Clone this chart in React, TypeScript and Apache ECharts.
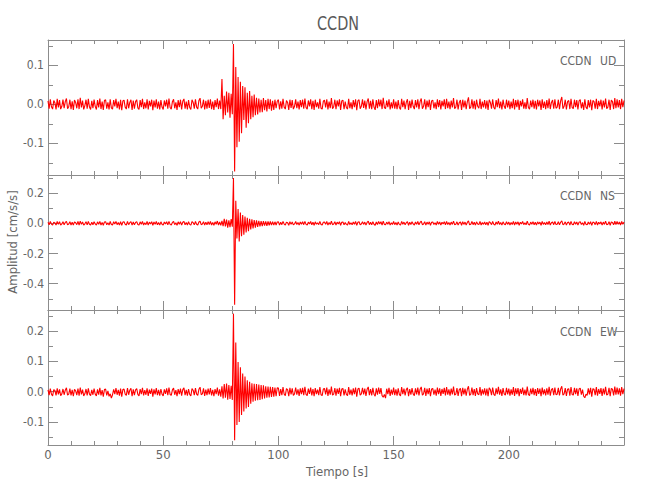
import React, { useEffect, useRef } from "react";
import * as echarts from "echarts";

// sampling interval of the traces, seconds
const dt = 0.5;
const station = "CCDN";
const components = ["UD", "NS", "EW"];

// amplitudes in 0.001 cm/s/s, one value every 0.5 s from 0 s to 250 s
const udMilli = [
  9, -11, 13, -6, -12, 10, 4, -13, 14, -8, 11, -12, -5, 12, -10, 7, 15, -11, -6, 12,
  -12, 8, -14, 11, 5, -10, 13, -12, 17, -8, 10, -13, -3, 12, -11, 14, -7, -13, 9, -10,
  12, -5, -13, 11, -8, 15, -12, 7, -14, 10, 12, -11, 5, -13, 13, -9, -12, 11, -5, 14,
  -10, 7, -13, 12, -15, 9, 11, -7, -12, 13, -10, 5, 12, -14, 10, -11, 7, 12, -9, -13,
  11, -7, 14, -12, 5, -10, 13, -13, 9, -5, 12, -15, 10, -8, 13, -11, 7, -13, 11, -7,
  -13, 10, -5, 12, -11, 15, -8, -12, 7, 13, -10, 5, -14, 11, -7, 12, -13, 8, 14, -11,
  7, -13, 11, -8, -13, 12, 5, -11, 13, -7, -12, 10, 16, -10, -5, 12, -13, 9, -11, 12,
  -9, 13, -12, 7, -14, 11, -7, 15, -12, 10,
  -12, 65, -38, 22, -28, 33, -21, 30, -34, 27, -25, 155, -172, 96, -110, 70, -96, 58, -74, 47,
  -40, 44, -60, 30, -48, 34, -38, 22, -33, 25, -28, 17, -26, 15, -21, 12, -20, 16, -15, 11,
  -18, 14, -12, 13, -16, 9, -14, 12, -10, 8,
  12, -13, 8, -11, 14, -7, -12, 10, 5, -14, 12, -9, 11, -12, -5, 13, -10, 7, -13, 11,
  -7, 12, -11, 15, -8, -12, 10, -5, 13, -12, 9, -14, 12, -7, 5, -11, 14, -10, -12, 8,
  11, -8, 13, -13, 7, -10, 16, -11, -6, 12, -12, 10, -5, 13, -14, 9, 11, -12, 7, -8,
  -12, 14, -10, 5, -12, 11, -7, 13, -15, 9, 12, -11, -5, 13, -9, 10, -13, 7, 15, -11,
  9, -12, 13, -7, -14, 11, -10, 13, -5, 12, -12, 17, -8, -11, 10, -7, 13, -13, 5, -10,
  13, -11, 7, -12, 11, -8, -13, 14, -7, 10, -12, 5, 13, -14, 9, -10, 12, -5, -12, 11,
  -8, 13, -12, 7, 15, -11, -5, 13, -13, 10, -7, 12, -14, 9, 11, -10, 5, -12, 13, -7,
  11, -13, 9, -5, 13, -12, 14, -10, 7, -12, 10, -8, 16, -11, -7, 12, -13, 5, 11, -14,
  12, -8, 10, -12, 7, 18, -11, -7, 13, -11, 9, -13, 12, -5, -10, 14, -12, 7, -8, 11,
  -11, 10, -14, 12, 5, -11, 13, -8, -12, 11, -7, 15, -10, 7, -13, 12, -5, -11, 12, -8,
  10, -12, 7, -10, 14, -13, 11, -7, 12, -14, 9, -5, 13, -11, 5, -12, 16, -8, -12, 10,
  -7, 12, -11, 9, -13, 12, -5, 10, -14, 13, -9, 7, -12, 11, -10, 15, -12, 5, 11, -11,
  13, -10, -7, 12, -12, 9, 19, -11, -5, 12, -13, 7, 10, -12, 14, -8, -11, 12, -7, 11,
  -13, 9, 12, -10, 5, -14, 13, -7, -12, 11, -8, 12, -15, 10, 7, -11, 14, -12, 9, -5,
  12, -13, 10, -8, 15, -11, -7, 12, -14, 11, 7, -12, 16, -10, 13, -8, 11, -12, 14, -7, 10,
];

const nsMilli = [
  7, -10, 12, -5, -12, 8, 3, -11, 13, -7, 10, -11, -4, 11, -9, 6, 13, -10, -5, 11,
  -11, 7, -12, 10, 4, -9, 12, -11, 15, -7, 9, -12, -3, 11, -10, 12, -6, -11, 8, -9,
  11, -4, -12, 10, -7, 13, -11, 6, -13, 9, 11, -10, 4, -12, 12, -8, -11, 10, -4, 13,
  -9, 6, -12, 11, -13, 8, 10, -6, -11, 12, -9, 4, 11, -12, 9, -10, 6, 11, -8, -12,
  10, -6, 12, -11, 4, -9, 12, -12, 8, -4, 11, -13, 9, -7, 12, -10, 6, -12, 10, -6,
  -12, 9, -4, 11, -10, 13, -7, -11, 6, 12, -9, 4, -13, 10, -6, 11, -12, 7, 13, -10,
  6, -11, 10, -7, -12, 11, 4, -10, 12, -6, -11, 9, 14, -9, -4, 11, -12, 8, -10, 11,
  -8, 12, -11, 6, -13, 10, -6, 15, -11, 9,
  -14, 16, -18, 30, -20, 25, -28, 20, -25, 28, -22, 300, -540, 150, -100, 95, -120, 72, -85, 55,
  -75, 45, -60, 36, -52, 30, -40, 26, -34, 22, -28, 19, -24, 17, -20, 15, -18, 14, -15, 13,
  -16, 12, -13, 12, -12, 11, -12, 10, -11, 9,
  10, -12, 7, -9, 13, -5, -11, 8, 4, -13, 11, -7, 9, -10, -4, 12, -8, 6, -12, 9,
  -6, 11, -9, 13, -7, -11, 8, -4, 12, -10, 7, -13, 10, -6, 4, -9, 13, -8, -11, 7,
  9, -7, 12, -12, 6, -8, 14, -9, -5, 10, -11, 8, -4, 11, -13, 7, 9, -10, 6, -7,
  -11, 13, -8, 4, -10, 9, -6, 12, -14, 7, 10, -9, -4, 11, -7, 8, -12, 6, 14, -9,
  7, -10, 11, -6, -13, 9, -8, 12, -4, 10, -11, 15, -7, -9, 8, -6, 11, -12, 4, -8,
  12, -9, 6, -11, 9, -7, -12, 13, -6, 8, -10, 4, 11, -13, 7, -8, 10, -4, -11, 9,
  -7, 12, -10, 6, 14, -9, -4, 11, -12, 8, -6, 10, -13, 7, 9, -8, 4, -11, 12, -6,
  9, -12, 7, -4, 11, -10, 13, -8, 6, -11, 8, -7, 15, -9, -6, 10, -12, 4, 9, -13,
  11, -7, 8, -11, 6, 16, -10, -6, 12, -9, 7, -12, 10, -4, -8, 13, -11, 6, -7, 9,
  -10, 8, -13, 11, 4, -9, 12, -7, -11, 9, -6, 14, -8, 6, -12, 10, -4, -9, 11, -7,
  8, -11, 6, -8, 13, -12, 9, -6, 10, -13, 7, -4, 12, -9, 4, -10, 15, -7, -11, 8,
  -6, 11, -9, 7, -12, 10, -4, 8, -13, 12, -7, 6, -10, 9, -8, 14, -11, 4, 9, -9,
  12, -8, -6, 11, -10, 7, 16, -9, -4, 10, -12, 6, 8, -11, 13, -7, -9, 11, -6, 9,
  -12, 7, 10, -8, 4, -13, 12, -6, -10, 9, -7, 11, -14, 8, 6, -9, 13, -11, 7, -4,
  10, -12, 8, -7, 14, -9, -6, 11, -13, 9, 6, -10, 15, -8, 12, -7, 9, -11, 13, -6, 8,
];

const ewMilli = [
  6, -11, 10, -8, -14, 7, 4, -12, 11, -9, 8, -13, -7, 9, -10, 5, 13, -11, -8, 10,
  -12, 6, -15, 8, 3, -11, 10, -13, 14, -9, 7, -14, -7, 9, -12, 11, -8, -13, 6, -10,
  10, -8, -14, 8, -10, 13, -12, 5, -16, 7, 9, -12, 3, -15, -7, -21, -10, 8, -8, 12,
  -10, 6, -13, 10, -16, 7, 9, -8, -12, 12, -10, 5, 11, -15, 8, -11, 6, 10, -9, -14,
  9, -8, 13, -12, 5, -10, 11, -14, 7, -7, 10, -16, 8, -9, 12, -11, 6, -13, 9, -8,
  -14, 8, -7, 11, -11, 14, -9, -12, 6, 12, -10, 5, -15, 9, -8, 10, -13, 7, 13, -11,
  6, -13, 9, -9, -14, 10, 5, -11, 12, -8, -12, 8, 15, -10, -7, 11, -14, 7, -11, 10,
  -9, 12, -12, 6, -15, 9, -8, 14, -13, 8,
  -16, 18, -22, 25, -20, 27, -26, 22, -24, 20, -27, 258, -160, 163, -110, 98, -100, 81, -77, 60,
  -65, 50, -55, 38, -50, 33, -40, 28, -33, 26, -30, 25, -28, 24, -27, 22, -25, 21, -22, 18,
  -20, 17, -19, 16, -17, 15, -16, 14, -15, 13,
  12, -14, 9, -11, 15, -8, -13, 10, 7, -15, 13, -9, 11, -12, -7, 14, -10, 8, -14, 11,
  -8, 13, -11, 16, -9, -13, 10, -7, 14, -12, 9, -15, 12, -8, 7, -11, 15, -10, -13, 9,
  11, -9, 14, -14, 8, -10, 17, -11, -8, 12, -13, 10, -7, 13, -15, 9, 11, -12, 8, -9,
  -13, 15, -10, 7, -12, 11, -8, 14, -16, 9, 12, -11, -7, 13, -9, 10, -14, 8, 16, -11,
  9, -12, 13, -8, -15, 11, -10, 14, -7, 12, -13, -18, -9, -21, 10, -8, 13, -14, 7, -10,
  14, -11, 8, -13, 11, -9, -14, 15, -8, 10, -12, 7, 13, -15, 9, -10, 12, -7, -13, 11,
  -9, 14, -12, 8, 16, -11, -7, 13, -14, 10, -8, 12, -15, 9, 11, -10, 7, -13, 14, -8,
  11, -14, 9, -7, 13, -12, 15, -10, 8, -13, 10, -9, 17, -11, -8, 12, -14, 7, 11, -15,
  13, -9, 10, -13, 8, 18, -12, -8, 14, -11, 9, -14, 12, -7, -10, 15, -13, 8, -9, 11,
  -12, 10, -15, 13, 7, -11, 14, -9, -13, 11, -8, 16, -10, 8, -14, 12, -7, -11, 13, -9,
  10, -13, 8, -10, 15, -14, 11, -8, 12, -15, 9, -7, 14, -11, 7, -12, 17, -9, -13, 10,
  -8, 13, -11, 9, -14, 12, -7, 10, -15, 14, -9, 8, -12, 11, -10, 16, -13, 7, 11, -11,
  14, -10, -8, 13, -12, 9, 18, -11, -7, 12, -14, 8, 10, -13, 15, -9, -11, 13, -8, 11,
  -14, 9, 12, -10, 7, -15, -20, -8, -12, 11, -9, 13, -16, 10, 8, -11, 15, -13, 9, -7,
  12, -14, 10, -9, 16, -11, -8, 13, -15, 11, 8, -12, 17, -10, 14, -9, 11, -13, 15, -8, 10,
];

const traces = [udMilli, nsMilli, ewMilli];

// axis extents and ticks
const xMin = 0;
const xMax = 250;
const xMajor = [0, 50, 100, 150, 200];
const xMinor = [10, 20, 30, 40, 60, 70, 80, 90, 110, 120, 130, 140, 160, 170, 180, 190, 210, 220, 230, 240];
const yMins = [-0.181, -0.574, -0.176];
const yMaxs = [0.165, 0.32, 0.27];
const yMajor = [
  [-0.1, 0, 0.1],
  [-0.4, -0.2, 0, 0.2],
  [-0.1, 0, 0.1, 0.2],
];
const yMinor = [
  [-0.15, -0.05, 0.05, 0.15],
  [-0.5, -0.3, -0.1, 0.1, 0.3],
  [-0.15, -0.05, 0.05, 0.15, 0.25],
];

const FONT = '"Liberation Sans Narrow", "DejaVu Sans Condensed", "Arial Narrow", "Liberation Sans", sans-serif';
const AXIS_COLOR = "#8c8c8c";
const TEXT_COLOR = "#666666";
const TRACE_COLOR = "#ff0000";

const GRID_LEFT = 48;
const GRID_RIGHT = 26;
const GRID_TOPS = [40, 175, 310];
const GRID_H = 135;

function fmtY(v: number) {
  if (Math.abs(v) < 1e-9) return "0.0";
  return v.toFixed(1);
}

function buildOption() {
  const grids = GRID_TOPS.map((t) => ({ left: GRID_LEFT, right: GRID_RIGHT, top: t, height: GRID_H }));
  const xAxes: any[] = [];
  const yAxes: any[] = [];
  const series: any[] = [];
  for (let g = 0; g < 3; g++) {
    const xBase = {
      gridIndex: g,
      type: "value",
      min: xMin,
      max: xMax,
      splitLine: { show: false },
      axisLine: { show: false, onZero: false },
    };
    for (const pos of ["bottom", "top"]) {
      xAxes.push({
        ...xBase,
        position: pos,
        axisLine: { show: true, onZero: false, lineStyle: { color: AXIS_COLOR, width: 1 } },
        axisTick: { show: true, inside: true, length: 9, customValues: xMajor, lineStyle: { color: AXIS_COLOR } },
        axisLabel: {
          show: g === 2 && pos === "bottom",
          customValues: xMajor,
          margin: 3,
          color: TEXT_COLOR,
          fontFamily: FONT,
          fontSize: 13,
        },
      });
      xAxes.push({
        ...xBase,
        position: pos,
        axisTick: { show: true, inside: true, length: 4, customValues: xMinor, lineStyle: { color: AXIS_COLOR } },
        axisLabel: { show: false },
      });
    }
    const yBase = {
      gridIndex: g,
      type: "value",
      min: yMins[g],
      max: yMaxs[g],
      splitLine: { show: false },
      axisLine: { show: false, onZero: false },
    };
    for (const pos of ["left", "right"]) {
      yAxes.push({
        ...yBase,
        position: pos,
        axisLine: { show: true, onZero: false, lineStyle: { color: AXIS_COLOR, width: 1 } },
        axisTick: { show: true, inside: true, length: 10, customValues: yMajor[g], lineStyle: { color: AXIS_COLOR } },
        axisLabel: {
          show: pos === "left",
          customValues: yMajor[g],
          formatter: fmtY,
          margin: 4,
          color: TEXT_COLOR,
          fontFamily: FONT,
          fontSize: 12,
        },
      });
      yAxes.push({
        ...yBase,
        position: pos,
        axisTick: { show: true, inside: true, length: 5, customValues: yMinor[g], lineStyle: { color: AXIS_COLOR } },
        axisLabel: { show: false },
      });
    }
    series.push({
      type: "line",
      name: station + " " + components[g],
      xAxisIndex: g * 4,
      yAxisIndex: g * 4,
      showSymbol: false,
      symbol: "none",
      clip: true,
      lineStyle: { color: TRACE_COLOR, width: 1.1 },
      data: traces[g].map((v, i) => [i * dt, v / 1000]),
    });
  }

  const graphic: any[] = [
    {
      type: "text",
      x: 338,
      y: 23,
      scaleX: 0.8,
      style: { text: station, font: `20px ${FONT}`, fill: "#5a5a5a", textAlign: "center", textVerticalAlign: "middle" },
    },
    {
      type: "text",
      x: 12,
      y: 242,
      rotation: Math.PI / 2,
      style: { text: "Amplitud [cm/s/s]", font: `13px ${FONT}`, fill: TEXT_COLOR, textAlign: "center", textVerticalAlign: "middle" },
    },
    {
      type: "text",
      x: 337,
      y: 471,
      style: { text: "Tiempo [s]", font: `13px ${FONT}`, fill: TEXT_COLOR, textAlign: "center", textVerticalAlign: "middle" },
    },
  ];
  const labelYs = [61, 196, 332];
  components.forEach((c, g) => {
    graphic.push({
      type: "text",
      x: 560,
      y: labelYs[g],
      style: { text: station, font: `12px ${FONT}`, fill: TEXT_COLOR, textAlign: "left", textVerticalAlign: "middle" },
    });
    graphic.push({
      type: "text",
      x: 600,
      y: labelYs[g],
      style: { text: c, font: `12px ${FONT}`, fill: TEXT_COLOR, textAlign: "left", textVerticalAlign: "middle" },
    });
  });

  return {
    animation: false,
    backgroundColor: "#ffffff",
    grid: grids,
    xAxis: xAxes,
    yAxis: yAxes,
    series,
    graphic,
  };
}

export default function App() {
  const ref = useRef<HTMLDivElement | null>(null);
  useEffect(() => {
    if (!ref.current) return;
    const chart = echarts.init(ref.current, undefined, { renderer: "svg", width: 650, height: 500 });
    chart.setOption(buildOption() as any);
    return () => chart.dispose();
  }, []);
  return (
    <div
      ref={ref}
      style={{ position: "fixed", left: 0, top: 0, width: 650, height: 500, background: "#fff" }}
    />
  );
}
